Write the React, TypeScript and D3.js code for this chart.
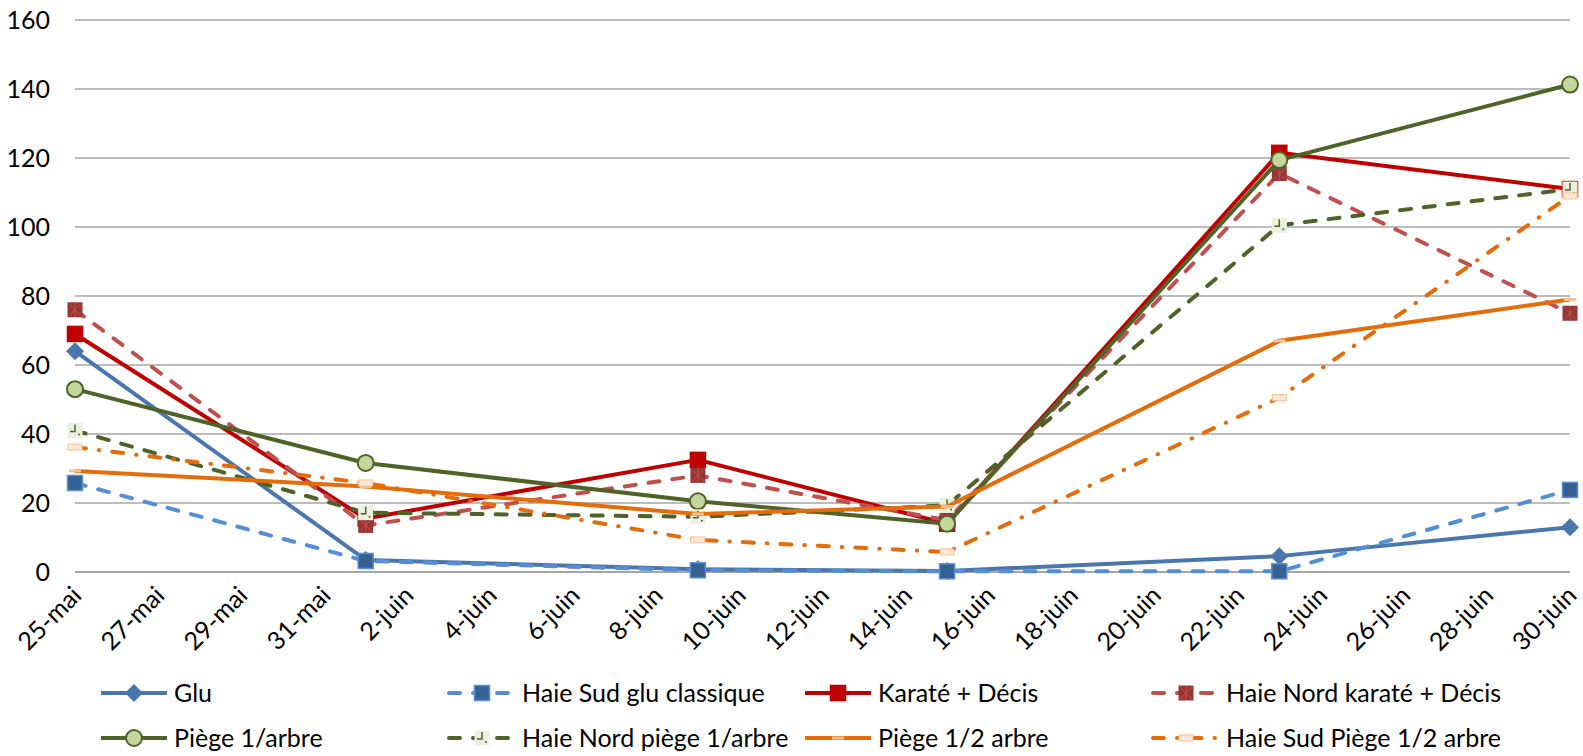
import React, { useRef, useEffect } from 'react';
import * as d3 from 'd3';

// sampling dates (year is arbitrary, only day/month shown)
const dates = ['2013-05-25', '2013-06-01', '2013-06-09', '2013-06-15', '2013-06-23', '2013-06-30'];

const glu = [64, 3.5, 0.8, 0.3, 4.6, 13];
const haieSudGlu = [25.8, 3.2, 0.5, 0.2, 0.2, 23.8];
const karate = [69, 15.5, 32.5, 14, 121.5, 111];
const haieNordKarate = [76, 13.5, 28, 15, 115.5, 75];
const piege1 = [53, 31.6, 20.5, 14, 119.4, 141.3];
const haieNordPiege1 = [41, 17.2, 16, 19.3, 100.5, 111];
const piege12 = [29.3, 24.8, 16.8, 19, 67, 79];
const haieSudPiege12 = [36.2, 25.8, 9.3, 5.8, 50.5, 109];

const seriesNames = [
  'Glu',
  'Haie Sud glu classique',
  'Karaté + Décis',
  'Haie Nord karaté + Décis',
  'Piège 1/arbre',
  'Haie Nord piège 1/arbre',
  'Piège 1/2 arbre',
  'Haie Sud Piège 1/2 arbre',
];
const seriesValues = [glu, haieSudGlu, karate, haieNordKarate, piege1, haieNordPiege1, piege12, haieSudPiege12];

const monthNames = ['janv', 'févr', 'mars', 'avr', 'mai', 'juin', 'juil', 'août', 'sept', 'oct', 'nov', 'déc'];
const yTicks = [0, 20, 40, 60, 80, 100, 120, 140, 160];

const DASH = '11,13';
const DASH_DOT = '11,13,0.5,13';

const styles = [
  { color: '#4a76ae', dash: null, marker: 'diamond', fill: '#4a76ae', stroke: '#4a76ae' },
  { color: '#558ed5', dash: DASH, marker: 'square', fill: '#376092', stroke: '#558ed5' },
  { color: '#c00000', dash: null, marker: 'square', fill: '#c00000', stroke: '#c00000' },
  { color: '#c0504d', dash: DASH, marker: 'xsquare', fill: '#953735', stroke: '#a94442' },
  { color: '#4f6228', dash: null, marker: 'circle', fill: '#c3d69b', stroke: '#4f6228' },
  { color: '#4f6228', dash: DASH, marker: 'pale', fill: '#ebf1de', stroke: '#ebf1de' },
  { color: '#e46c0a', dash: null, marker: 'bar', fill: '#fac090', stroke: 'none' },
  { color: '#e46c0a', dash: DASH_DOT, marker: 'light', fill: '#fde9d9', stroke: '#fac090' },
];

const WIDTH = 1583;
const HEIGHT = 756;
const FONT = 'Lato, "Open Sans", sans-serif';

const drawMarker = (g, type, x, y, st) => {
  if (type === 'diamond') {
    g.append('path')
      .attr('d', `M${x},${y - 9}L${x + 9},${y}L${x},${y + 9}L${x - 9},${y}Z`)
      .attr('fill', st.fill);
  } else if (type === 'square') {
    g.append('rect')
      .attr('x', x - 7.5).attr('y', y - 7.5)
      .attr('width', 15).attr('height', 15)
      .attr('fill', st.fill)
      .attr('stroke', st.stroke)
      .attr('stroke-width', 1.5);
  } else if (type === 'xsquare') {
    g.append('rect')
      .attr('x', x - 7.5).attr('y', y - 7.5)
      .attr('width', 15).attr('height', 15)
      .attr('fill', st.fill);
    g.append('path')
      .attr('d', `M${x - 6},${y - 6}L${x + 6},${y + 6}M${x + 6},${y - 6}L${x - 6},${y + 6}M${x},${y - 7}V${y + 7}`)
      .attr('stroke', '#c0504d')
      .attr('stroke-width', 1)
      .attr('fill', 'none');
  } else if (type === 'circle') {
    g.append('circle')
      .attr('cx', x).attr('cy', y).attr('r', 8)
      .attr('fill', st.fill)
      .attr('stroke', st.stroke)
      .attr('stroke-width', 2);
  } else if (type === 'pale') {
    g.append('rect')
      .attr('x', x - 7.5).attr('y', y - 7.5)
      .attr('width', 15).attr('height', 15)
      .attr('fill', st.fill);
    g.append('path')
      .attr('d', `M${x - 5},${y + 1}H${x}V${y - 6}`)
      .attr('stroke', '#4f6228')
      .attr('stroke-width', 1.5)
      .attr('fill', 'none');
    g.append('circle')
      .attr('cx', x + 4).attr('cy', y + 4).attr('r', 1)
      .attr('fill', '#4f6228');
  } else if (type === 'bar') {
    g.append('rect')
      .attr('x', x - 6).attr('y', y - 1.5)
      .attr('width', 12).attr('height', 3)
      .attr('fill', st.fill);
  } else if (type === 'light') {
    g.append('rect')
      .attr('x', x - 7).attr('y', y - 3)
      .attr('width', 14).attr('height', 6)
      .attr('fill', st.fill)
      .attr('stroke', st.stroke)
      .attr('stroke-width', 1);
  }
};

const App = () => {
  const svgRef = useRef(null);

  useEffect(() => {
    if (!svgRef.current) return;

    const parse = d3.timeParse('%Y-%m-%d');
    const xDates = dates.map(parse);

    const xScale = d3.scaleTime()
      .domain([xDates[0], xDates[xDates.length - 1]])
      .range([75, 1570]);

    const yScale = d3.scaleLinear()
      .domain([0, 160])
      .range([572, 20]);

    const svg = d3.select(svgRef.current);
    svg.selectAll('*').remove();

    // gridlines
    svg.append('g')
      .selectAll('line')
      .data(yTicks)
      .enter()
      .append('line')
      .attr('x1', 75)
      .attr('x2', 1570)
      .attr('y1', d => yScale(d))
      .attr('y2', d => yScale(d))
      .attr('stroke', d => (d === 0 ? '#898989' : '#a6a6a6'))
      .attr('stroke-width', 1.5);

    // y labels
    svg.append('g')
      .selectAll('text')
      .data(yTicks)
      .enter()
      .append('text')
      .attr('x', 50)
      .attr('y', d => yScale(d))
      .attr('dy', '0.36em')
      .attr('text-anchor', 'end')
      .style('font-family', FONT)
      .style('font-size', '25px')
      .attr('fill', '#000')
      .text(d => d);

    // x labels every 2 days
    const xTicks = d3.timeDay.range(xDates[0], d3.timeDay.offset(xDates[xDates.length - 1], 1), 2);
    svg.append('g')
      .selectAll('text')
      .data(xTicks)
      .enter()
      .append('text')
      .attr('transform', d => `translate(${xScale(d) + 8}, 597) rotate(-45)`)
      .attr('text-anchor', 'end')
      .style('font-family', FONT)
      .style('font-size', '25px')
      .attr('fill', '#000')
      .text(d => `${d.getDate()}-${monthNames[d.getMonth()]}`);

    // series
    const line = d3.line()
      .x((d, i) => xScale(xDates[i]))
      .y(d => yScale(d));

    seriesValues.forEach((values, s) => {
      const st = styles[s];
      const g = svg.append('g');
      g.append('path')
        .datum(values)
        .attr('fill', 'none')
        .attr('stroke', st.color)
        .attr('stroke-width', 4)
        .attr('stroke-linejoin', 'round')
        .attr('stroke-linecap', st.dash ? 'round' : 'butt')
        .attr('stroke-dasharray', st.dash)
        .attr('d', line);
      values.forEach((v, i) => drawMarker(g, st.marker, xScale(xDates[i]), yScale(v), st));
    });

    // legend
    const legendX = [99, 447, 803, 1151];
    const legendY = [693, 738];
    seriesNames.forEach((name, s) => {
      const st = styles[s];
      const lx = legendX[s % 4];
      const ly = legendY[Math.floor(s / 4)];
      const g = svg.append('g');
      g.append('line')
        .attr('x1', lx + 2).attr('x2', lx + 68)
        .attr('y1', ly).attr('y2', ly)
        .attr('stroke', st.color)
        .attr('stroke-width', 4)
        .attr('stroke-linecap', st.dash ? 'round' : 'butt')
        .attr('stroke-dasharray', st.dash);
      drawMarker(g, st.marker, lx + 35, ly, st);
      g.append('text')
        .attr('x', lx + 75)
        .attr('y', ly)
        .attr('dy', '0.36em')
        .style('font-family', FONT)
        .style('font-size', '25px')
        .attr('fill', '#000')
        .text(name);
    });
  }, []);

  return (
    <div style={{ position: 'absolute', left: 0, top: 0 }}>
      <svg ref={svgRef} width={WIDTH} height={HEIGHT} style={{ display: 'block', background: '#fff' }} />
    </div>
  );
};

export default App;
